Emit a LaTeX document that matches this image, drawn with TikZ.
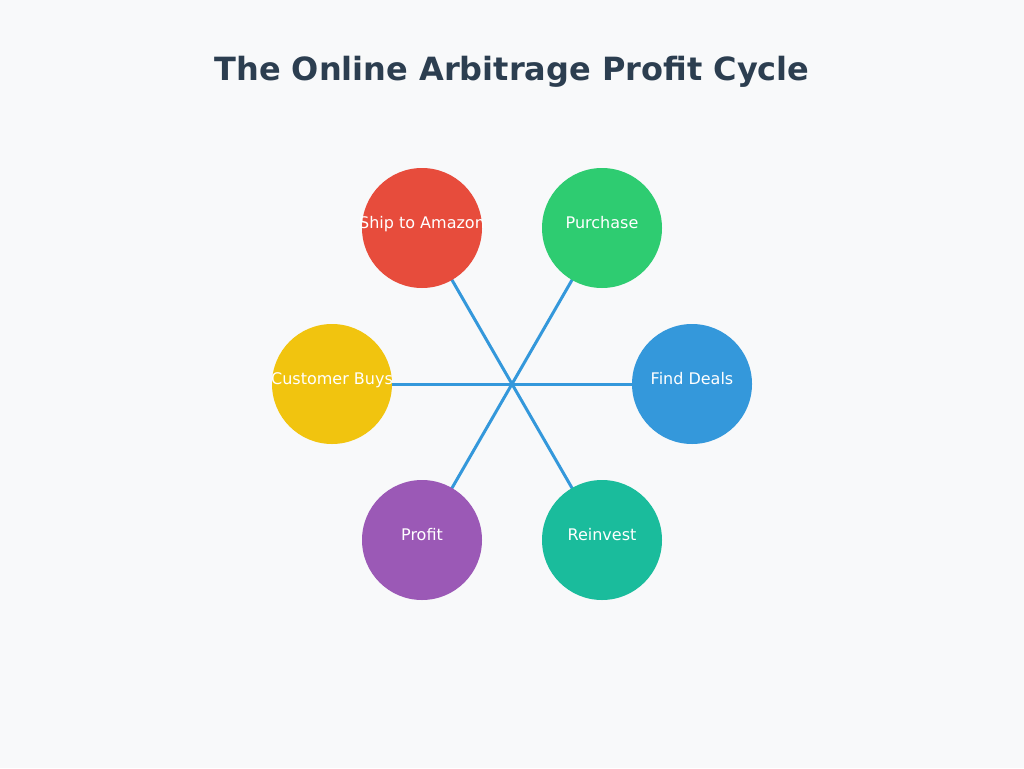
\documentclass[tikz,border=0pt]{standalone}
\usepackage{fontspec}
\setmainfont{DejaVu Sans}
\definecolor{bgc}{HTML}{F8F9FA}
\definecolor{titlec}{HTML}{2C3E50}
\definecolor{linec}{HTML}{3498DB}
\definecolor{cred}{HTML}{E74C3C}
\definecolor{cgreen}{HTML}{2ECC71}
\definecolor{cblue}{HTML}{3498DB}
\definecolor{cyellow}{HTML}{F1C40F}
\definecolor{cpurple}{HTML}{9B59B6}
\definecolor{cteal}{HTML}{1ABC9C}
\pgfdeclarelayer{bg}
\pgfdeclarelayer{lines}
\pgfsetlayers{bg,lines,main}
\tikzset{
  stepcircle/.style={circle, minimum size=120pt, inner sep=0pt, draw=none, fill=#1},
  steplabel/.style={anchor=base, text=white, font=\fontsize{16pt}{18pt}\selectfont, inner sep=0pt},
  link/.style={draw=linec, line width=3pt},
}
\begin{document}
\begin{tikzpicture}[x=1pt, y=-1pt]
\begin{pgfonlayer}{bg}
\fill[bgc] (0,0) rectangle (1024,768);
\end{pgfonlayer}
\useasboundingbox (0,0) rectangle (1024,768);
\node[anchor=base, text=titlec, font=\fontsize{32pt}{38pt}\selectfont\bfseries, inner sep=0pt] (title) at (512,80) {The Online Arbitrage Profit Cycle};

\node[stepcircle=cblue] (find) at (692,384) {};
\node[stepcircle=cgreen] (purchase) at (602,228) {};
\node[stepcircle=cred] (ship) at (422,228) {};
\node[stepcircle=cyellow] (customer) at (332,384) {};
\node[stepcircle=cpurple] (profit) at (422,540) {};
\node[stepcircle=cteal] (reinvest) at (602,540) {};

\begin{pgfonlayer}{lines}
\draw[link] (ship.center) -- (reinvest.center);
\draw[link] (purchase.center) -- (profit.center);
\draw[link] (customer.center) -- (find.center);
\end{pgfonlayer}

\node[steplabel] (findT) at (692,384) {Find Deals};
\node[steplabel] (purchaseT) at (602,228) {Purchase};
\node[steplabel] (shipT) at (422,228) {Ship to Amazon};
\node[steplabel] (customerT) at (332,384) {Customer Buys};
\node[steplabel] (profitT) at (422,540) {Profit};
\node[steplabel] (reinvestT) at (602,540) {Reinvest};
\end{tikzpicture}
\end{document}
